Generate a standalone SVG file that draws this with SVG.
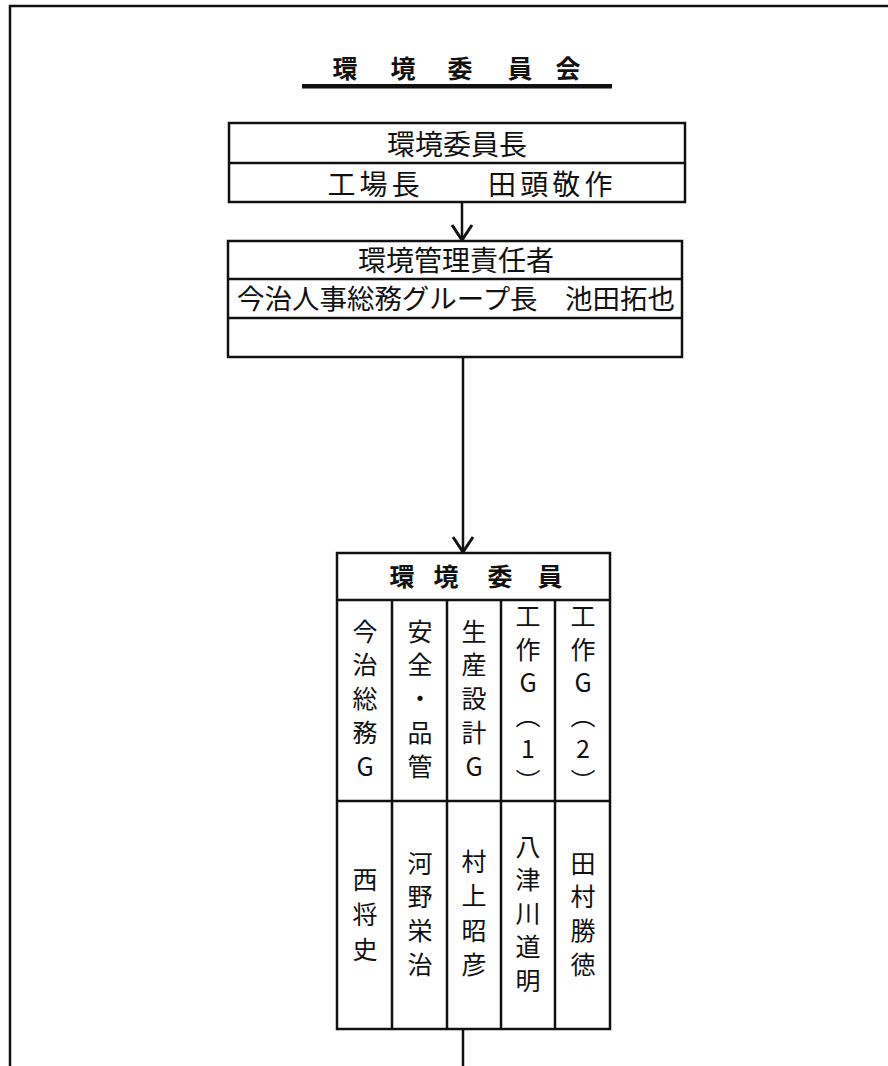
<svg xmlns="http://www.w3.org/2000/svg" width="888" height="1066" viewBox="0 0 888 1066">
<style>
.t{font-family:"Noto Sans CJK JP","Noto Sans CJK SC",sans-serif;fill:#111;text-anchor:middle}
.b{font-weight:bold}
.box{fill:#fff;stroke:#111;stroke-width:2.5}
.ln{stroke:#111;stroke-width:2.5;fill:none}
.v{font-size:25px}
</style>
<defs>
<marker id="ah" markerWidth="20" markerHeight="24" refX="17" refY="12" orient="auto" markerUnits="userSpaceOnUse" viewBox="0 0 20 24">
<path d="M2,2 L17,12 L2,22" fill="none" stroke="#111" stroke-width="3"/>
</marker>
</defs>
<rect width="888" height="1066" fill="#fff"/>
<path d="M10,1066 V6 H888" fill="none" stroke="#111" stroke-width="2.5"/>
<g id="title">
<text class="t b" font-size="25" y="78"><tspan x="345">環</tspan><tspan x="403">境</tspan><tspan x="460">委</tspan><tspan x="520">員</tspan><tspan x="568">会</tspan></text>
<rect x="302" y="84" width="310" height="4.5" fill="#111"/>
</g>
<g id="connectors">
<line class="ln" x1="462" y1="202" x2="462" y2="240" marker-end="url(#ah)"/>
<line class="ln" x1="463" y1="357" x2="463" y2="552" marker-end="url(#ah)"/>
<line class="ln" x1="463" y1="1029" x2="463" y2="1066"/>
</g>
<g id="chairman">
<rect class="box" x="229" y="123" width="456" height="79"/>
<line class="ln" x1="229" y1="163" x2="685" y2="163"/>
<text class="t" font-size="28" x="457" y="155">環境委員長</text>
<text class="t" font-size="28" x="470" y="195" textLength="285" lengthAdjust="spacing">工場長　　田頭敬作</text>
</g>
<g id="manager">
<rect class="box" x="228" y="241" width="454" height="116"/>
<line class="ln" x1="228" y1="279" x2="682" y2="279"/>
<line class="ln" x1="228" y1="318" x2="682" y2="318"/>
<text class="t" font-size="28" x="456" y="271">環境管理責任者</text>
<text class="t" font-size="27" x="456" y="309" textLength="438" lengthAdjust="spacingAndGlyphs">今治人事総務グループ長　池田拓也</text>
</g>
<g id="committee">
<rect class="box" x="337" y="553" width="273" height="476"/>
<line class="ln" x1="337" y1="600" x2="610" y2="600"/>
<line class="ln" x1="337" y1="801" x2="610" y2="801"/>
<line class="ln" x1="392" y1="600" x2="392" y2="1029"/>
<line class="ln" x1="447" y1="600" x2="447" y2="1029"/>
<line class="ln" x1="501" y1="600" x2="501" y2="1029"/>
<line class="ln" x1="555" y1="600" x2="555" y2="1029"/>
<text class="t b" font-size="25" y="586"><tspan x="402">環</tspan><tspan x="446">境</tspan><tspan x="500">委</tspan><tspan x="550">員</tspan></text>
<g class="t v">
<text x="365" y="641">今</text><text x="365" y="674">治</text><text x="365" y="708">総</text><text x="365" y="742">務</text><text x="365" y="776">G</text>
<text x="420" y="641">安</text><text x="420" y="674">全</text><text x="420" y="708">・</text><text x="420" y="742">品</text><text x="420" y="776">管</text>
<text x="474" y="641">生</text><text x="474" y="674">産</text><text x="474" y="708">設</text><text x="474" y="742">計</text><text x="474" y="776">G</text>
<text x="528" y="626">工</text><text x="528" y="659">作</text><text x="528" y="692">G</text><text x="528" y="725">︵</text><text x="528" y="758">1</text><text x="528" y="791">︶</text>
<text x="583" y="626">工</text><text x="583" y="659">作</text><text x="583" y="692">G</text><text x="583" y="725">︵</text><text x="583" y="758">2</text><text x="583" y="791">︶</text>
<text x="365" y="889">西</text><text x="365" y="924">将</text><text x="365" y="959">史</text>
<text x="420" y="873">河</text><text x="420" y="906">野</text><text x="420" y="940">栄</text><text x="420" y="974">治</text>
<text x="474" y="871">村</text><text x="474" y="905">上</text><text x="474" y="940">昭</text><text x="474" y="974">彦</text>
<text x="528" y="856">八</text><text x="528" y="889">津</text><text x="528" y="923">川</text><text x="528" y="956">道</text><text x="528" y="990">明</text>
<text x="583" y="873">田</text><text x="583" y="906">村</text><text x="583" y="940">勝</text><text x="583" y="974">徳</text>
</g>
</g>
</svg>
